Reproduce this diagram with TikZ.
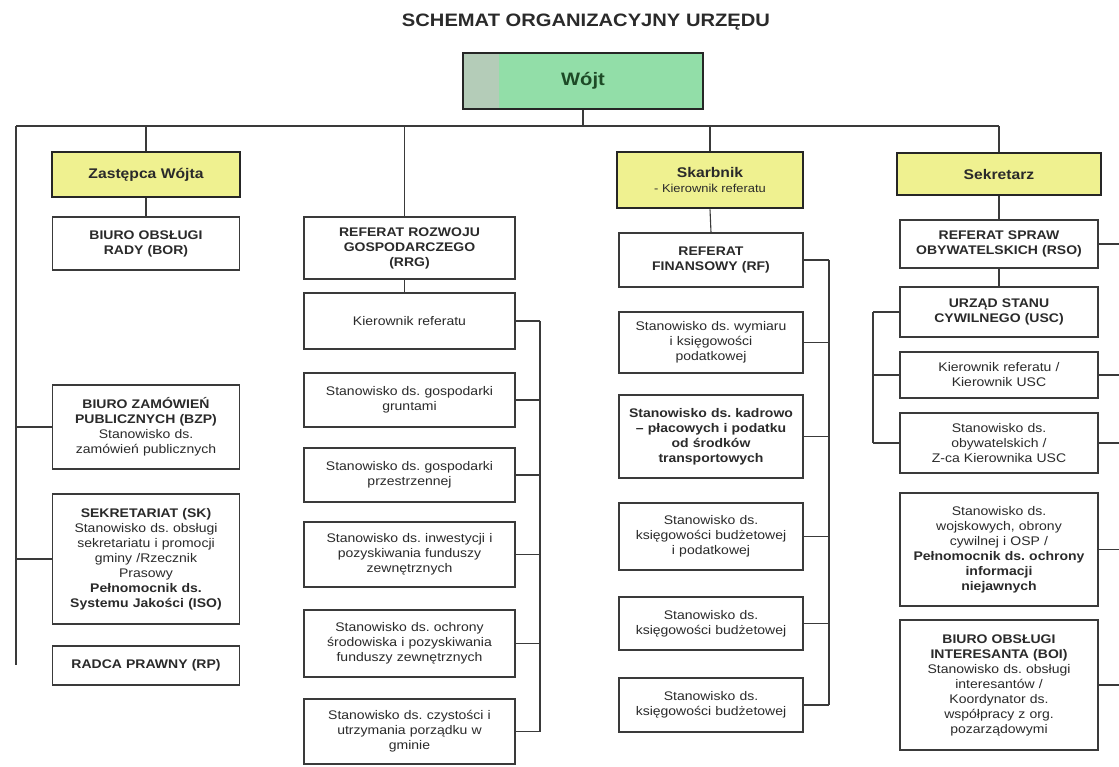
\documentclass[tikz,border=0pt]{standalone}
\usepackage{fontspec}
\setmainfont{Liberation Sans}[FakeStretch=1.12]
\definecolor{linec}{HTML}{3A3A3A}
\definecolor{textc}{HTML}{2A2A2A}
\definecolor{yel}{HTML}{EFF190}
\definecolor{grn}{HTML}{92DEA8}
\definecolor{grngray}{HTML}{B4CCB8}
\definecolor{wojtc}{HTML}{1D4A26}
\begin{document}
\frenchspacing
\begin{tikzpicture}[x=1pt,y=-1pt,
  box/.style={draw=linec, line width=1.1pt, fill=white, inner sep=0pt, align=center,
    text=textc, font=\fontsize{12.5}{15}\selectfont},
  head/.style={draw=black!85, line width=2.8pt, fill=yel, inner sep=0pt, align=center,
    text=textc, font=\bfseries\fontsize{14}{16}\selectfont},
  conn/.style={draw=linec, line width=1.1pt}]
\useasboundingbox (0,0) rectangle (1119,767);

% title
\node[font=\bfseries\fontsize{18}{20}\selectfont, text=textc] (title) at (586,22) {SCHEMAT ORGANIZACYJNY URZĘDU};

% top
\node[draw=black!85, line width=2.8pt, fill=grn, inner sep=0pt, minimum width=240pt, minimum height=56pt,
  path picture={\fill[grngray] (path picture bounding box.north west) rectangle ([xshift=36pt]path picture bounding box.south west);},
  font=\bfseries\fontsize{18}{20}\selectfont, text=wojtc] (wojt) at (583,81) {\raisebox{-7pt}{Wójt}};

\coordinate (hl) at (16,126);
\coordinate (hr) at (999,126);
\coordinate (lb) at (16,665);
\coordinate (b2) at (540,0);
\coordinate (b3) at (829,0);
\coordinate (b4) at (873,0);
\coordinate (re) at (1119,0);

% column 1
\node[head, minimum width=188pt, minimum height=45pt] (zast) at (146,174.5) {Zastępca Wójta};
\node[box, minimum width=187pt, minimum height=53pt, text width=180pt] (bor) at (146,243.5) {\textbf{BIURO OBSŁUGI}\\\textbf{RADY (BOR)}};
\node[box, minimum width=187pt, minimum height=84pt, text width=180pt] (bzp) at (146,427) {\textbf{BIURO ZAMÓWIEŃ}\\\textbf{PUBLICZNYCH (BZP)}\\Stanowisko ds.\\zamówień publicznych};
\node[box, minimum width=187pt, minimum height=130pt, text width=180pt] (sk) at (146,559) {\textbf{SEKRETARIAT (SK)}\\Stanowisko ds. obsługi\\sekretariatu i promocji\\gminy /Rzecznik\\Prasowy\\\textbf{Pełnomocnik ds.}\\\textbf{Systemu Jakości (ISO)}};
\node[box, minimum width=187pt, minimum height=39pt, text width=180pt] (rp) at (146,665.5) {\textbf{RADCA PRAWNY (RP)}};

% column 2
\node[box, minimum width=211pt, minimum height=62pt, text width=200pt] (rrg) at (409.5,248) {\textbf{REFERAT ROZWOJU}\\\textbf{GOSPODARCZEGO}\\\textbf{(RRG)}};
\node[box, minimum width=211pt, minimum height=56pt, text width=200pt] (kier) at (409.5,321) {Kierownik referatu};
\node[box, minimum width=211pt, minimum height=54pt, text width=200pt] (grunt) at (409.5,400) {Stanowisko ds. gospodarki\\gruntami};
\node[box, minimum width=211pt, minimum height=54pt, text width=200pt] (przes) at (409.5,475) {Stanowisko ds. gospodarki\\przestrzennej};
\node[box, minimum width=211pt, minimum height=65pt, text width=200pt] (inwest) at (409.5,554.5) {Stanowisko ds. inwestycji i\\pozyskiwania funduszy\\zewnętrznych};
\node[box, minimum width=211pt, minimum height=67pt, text width=200pt] (ochr) at (409.5,643.5) {Stanowisko ds. ochrony\\środowiska i pozyskiwania\\funduszy zewnętrznych};
\node[box, minimum width=211pt, minimum height=65pt, text width=200pt] (czyst) at (409.5,731.5) {Stanowisko ds. czystości i\\utrzymania porządku w\\gminie};

% column 3
\node[head, minimum width=186pt, minimum height=56pt] (skarb) at (710,180) {Skarbnik\\[-1pt]{\mdseries\fontsize{11.5}{13}\selectfont - Kierownik referatu}};
\node[box, minimum width=184pt, minimum height=54pt, text width=176pt] (rf) at (711,260) {\textbf{REFERAT}\\\textbf{FINANSOWY (RF)}};
\node[box, minimum width=184pt, minimum height=61pt, text width=176pt] (wym) at (711,342.5) {Stanowisko ds. wymiaru\\i księgowości\\podatkowej};
\node[box, minimum width=184pt, minimum height=83pt, text width=180pt] (kadr) at (711,436.5) {\textbf{Stanowisko ds. kadrowo}\\\textbf{– płacowych i podatku}\\\textbf{od środków}\\\textbf{transportowych}};
\node[box, minimum width=184pt, minimum height=67pt, text width=176pt] (kbp) at (711,536.5) {Stanowisko ds.\\księgowości budżetowej\\i podatkowej};
\node[box, minimum width=184pt, minimum height=53pt, text width=176pt] (kb1) at (711,623.5) {Stanowisko ds.\\księgowości budżetowej};
\node[box, minimum width=184pt, minimum height=54pt, text width=176pt] (kb2) at (711,705) {Stanowisko ds.\\księgowości budżetowej};

% column 4
\node[head, minimum width=204pt, minimum height=42pt] (sekr) at (999,174) {Sekretarz};
\node[box, minimum width=198pt, minimum height=48pt, text width=194pt] (rso) at (999,244) {\textbf{REFERAT SPRAW}\\\textbf{OBYWATELSKICH (RSO)}};
\node[box, minimum width=198pt, minimum height=50pt, text width=194pt] (usc) at (999,312) {\textbf{URZĄD STANU}\\\textbf{CYWILNEGO (USC)}};
\node[box, minimum width=198pt, minimum height=46pt, text width=194pt] (kusc) at (999,375) {Kierownik referatu /\\Kierownik USC};
\node[box, minimum width=198pt, minimum height=60pt, text width=194pt] (obyw) at (999,443) {Stanowisko ds.\\obywatelskich /\\Z-ca Kierownika USC};
\node[box, minimum width=198pt, minimum height=113pt, text width=194pt] (wojsk) at (999,549.5) {Stanowisko ds.\\wojskowych, obrony\\cywilnej i OSP /\\\textbf{Pełnomocnik ds. ochrony}\\\textbf{informacji}\\\textbf{niejawnych}};
\node[box, minimum width=198pt, minimum height=130pt, text width=194pt] (boi) at (999,685) {\textbf{BIURO OBSŁUGI}\\\textbf{INTERESANTA (BOI)}\\Stanowisko ds. obsługi\\interesantów /\\Koordynator ds.\\współpracy z org.\\pozarządowymi};

% connectors
\draw[conn] (wojt.south) -- (wojt.south |- hl);
\draw[conn] (hl) -- (hr);
\draw[conn] (hl) -- (lb);
\draw[conn] (bzp.west) -- (bzp.west -| hl);
\draw[conn] (sk.west) -- (sk.west -| hl);
\draw[conn] (zast.north) -- (zast.north |- hl);
\draw[conn] (zast.south) -- (bor.north);

\draw[conn] ([xshift=-5pt]rrg.north) -- ([xshift=-5pt]rrg.north |- hl);
\draw[conn] ([xshift=-5pt]rrg.south) -- ([xshift=-5pt]kier.north);
\foreach \n in {kier,grunt,przes,inwest,ochr,czyst}
  \draw[conn] (\n.east) -- (\n.east -| b2);
\draw[conn] (kier.east -| b2) -- (czyst.east -| b2);

\draw[conn] (skarb.north) -- (skarb.north |- hl);
\draw[conn] (skarb.south) -- (rf.north);
\foreach \n in {rf,wym,kadr,kbp,kb1,kb2}
  \draw[conn] (\n.east) -- (\n.east -| b3);
\draw[conn] (rf.east -| b3) -- (kb2.east -| b3);

\draw[conn] (sekr.north) -- (sekr.north |- hr);
\draw[conn] (sekr.south) -- (rso.north);
\draw[conn] (rso.south) -- (usc.north);
\foreach \n in {usc,kusc,obyw}
  \draw[conn] (\n.west) -- (\n.west -| b4);
\draw[conn] (usc.west -| b4) -- (obyw.west -| b4);
\foreach \n in {rso,kusc,obyw,wojsk,boi}
  \draw[conn] (\n.east) -- (\n.east -| re);
\end{tikzpicture}
\end{document}
